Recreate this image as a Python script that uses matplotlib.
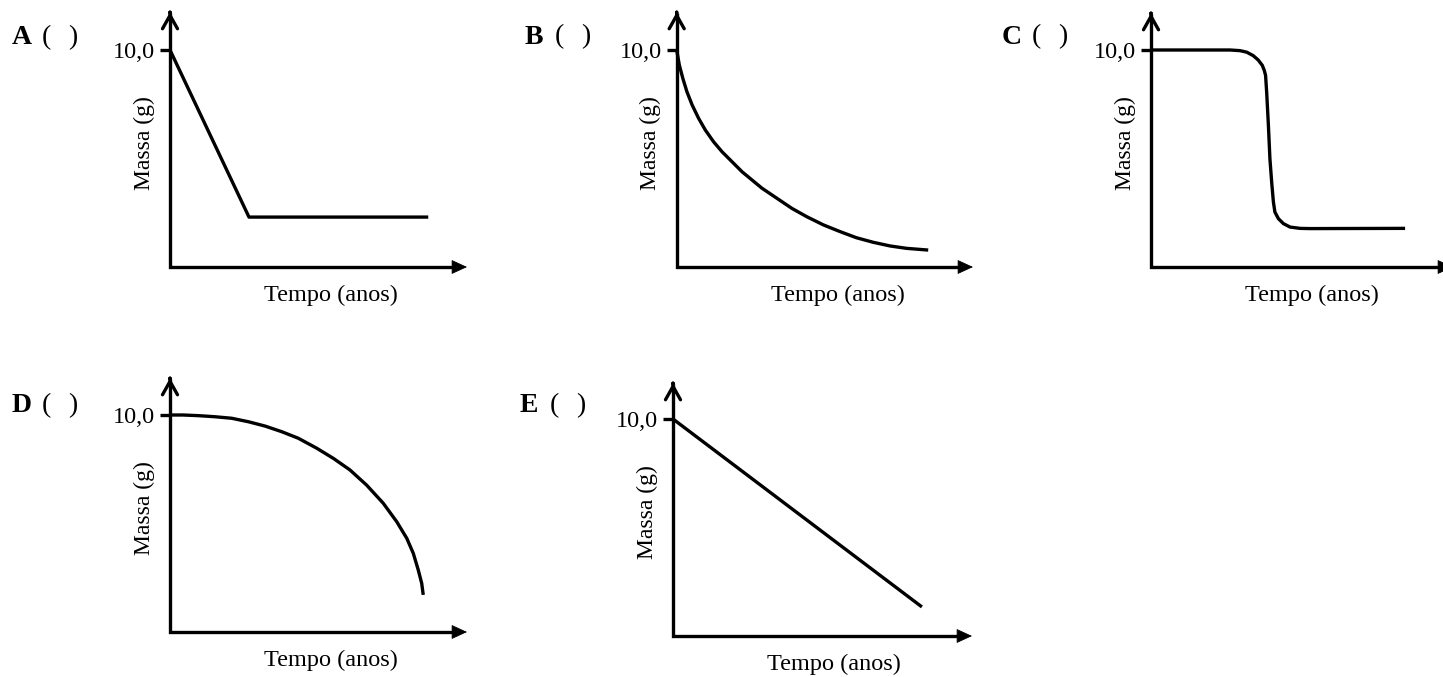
import matplotlib
matplotlib.use("Agg")
import matplotlib.pyplot as plt

plt.rcParams["font.family"] = ["Liberation Serif", "DejaVu Serif"]

W, H, DPI = 1443, 677, 100
PX = 21.7  # pixels per data unit on both axes

# ---- data (time in arbitrary units, mass in g) ----
a_time = [0.0, 3.64, 11.9]
a_mass = [10.0, 2.3, 2.3]

b_time = [0.0, 0.12, 0.28, 0.47, 0.71, 1.01, 1.32, 1.70, 2.09, 2.55, 3.01, 3.47,
          3.93, 4.39, 4.85, 5.31, 5.99, 6.76, 7.53, 8.28, 9.05, 9.83, 10.59, 11.59]
b_mass = [10.0, 9.31, 8.70, 8.08, 7.47, 6.85, 6.31, 5.77, 5.31, 4.85, 4.39, 4.01,
          3.63, 3.32, 3.01, 2.70, 2.32, 1.94, 1.63, 1.35, 1.14, 0.97, 0.86, 0.78]

c_time = [0.0, 3.64, 4.10, 4.41, 4.71, 4.94, 5.13, 5.22, 5.28, 5.33, 5.41, 5.48,
          5.56, 5.64, 5.71, 5.87, 6.10, 6.41, 6.87, 7.33, 11.71]
c_mass = [10.0, 10.0, 9.97, 9.90, 9.74, 9.54, 9.29, 9.06, 8.83, 8.06, 6.53, 4.99,
          3.92, 3.00, 2.53, 2.23, 2.00, 1.84, 1.78, 1.77, 1.78]

d_time = [0.0, 0.6, 1.31, 2.07, 2.84, 3.61, 4.38, 5.15, 5.91, 6.76, 7.53, 8.29,
          9.06, 9.83, 10.45, 10.91, 11.21, 11.44, 11.60, 11.67]
d_mass = [10.0, 10.0, 9.97, 9.92, 9.85, 9.69, 9.49, 9.23, 8.93, 8.47, 8.00, 7.47,
          6.77, 5.93, 5.08, 4.32, 3.63, 2.86, 2.24, 1.71]

e_time = [0.0, 11.47]
e_mass = [10.0, 1.34]

ytick_label = "10,0"
xlabel = "Tempo (anos)"
ylabel = "Massa (g)"

# ---- layout (pixels) ----
panels = [
    dict(letter="A", t=a_time, m=a_mass, ox=170, oy=267, xtip=467, ytip=12, lx=12, ly=38),
    dict(letter="B", t=b_time, m=b_mass, ox=676.7, oy=267, xtip=973, ytip=12, lx=525, ly=37),
    dict(letter="C", t=c_time, m=c_mass, ox=1151, oy=267, xtip=1453, ytip=13, lx=1002, ly=37),
    dict(letter="D", t=d_time, m=d_mass, ox=170, oy=632, xtip=467, ytip=378, lx=12, ly=406),
    dict(letter="E", t=e_time, m=e_mass, ox=673, oy=636, xtip=972, ytip=383, lx=520, ly=406),
]

fig = plt.figure(figsize=(W / DPI, H / DPI), dpi=DPI)
fig.patch.set_facecolor("white")


def fx(px):
    return px / W


def fy(py):
    return 1 - py / H


LW = 2.4
for p in panels:
    ox, oy = p["ox"], p["oy"]
    wpx = p["xtip"] - ox
    hpx = oy - p["ytip"]
    xmax, ymax = wpx / PX, hpx / PX
    ax = fig.add_axes([fx(ox), fy(oy), wpx / W, hpx / H])
    ax.set_xlim(0, xmax)
    ax.set_ylim(0, ymax)
    ax.patch.set_visible(False)
    for s in ax.spines.values():
        s.set_visible(False)
    ax.set_xticks([])
    ax.set_yticks([10])
    ax.set_yticklabels([ytick_label])
    ax.tick_params(axis="y", length=7.5, width=LW, pad=3, labelsize=17.5, color="black")

    # axis lines (one L-shaped line) plus arrow heads
    ax.plot([0, 0, xmax - 0.3], [ymax - 0.05, 0, 0], color="black", lw=LW,
            solid_joinstyle="miter", solid_capstyle="butt", clip_on=False)
    ax.annotate("", xy=(0, ymax), xytext=(0, ymax - 0.02),
                arrowprops=dict(arrowstyle="->,head_length=0.48,head_width=0.27",
                                lw=LW, color="black", shrinkA=0, shrinkB=0,
                                mutation_scale=20), annotation_clip=False)
    ax.annotate("", xy=(xmax, 0), xytext=(xmax - 1.0, 0),
                arrowprops=dict(arrowstyle="-|>,head_length=0.5,head_width=0.23",
                                lw=0.6, color="black", fc="black", shrinkA=0, shrinkB=0,
                                mutation_scale=20), annotation_clip=False)

    ax.plot(p["t"], p["m"], color="black", lw=LW, solid_joinstyle="round",
            solid_capstyle="butt", clip_on=False)

    fig.text(fx(ox + 161), fy(oy + 28), xlabel, ha="center", va="center", fontsize=17.5)
    fig.text(fx(ox - 26), fy(oy - 124), ylabel, ha="center", va="center",
             rotation=90, fontsize=17)
    fig.text(fx(p["lx"]), fy(p["ly"]), p["letter"], ha="left", va="center",
             fontsize=20, fontweight="bold")
    fig.text(fx(p["lx"] + 30), fy(p["ly"]), "(", ha="left", va="center", fontsize=20)
    fig.text(fx(p["lx"] + 65), fy(p["ly"]), ")", ha="right", va="center", fontsize=20)

fig.savefig("out.png", dpi=DPI, facecolor="white")
